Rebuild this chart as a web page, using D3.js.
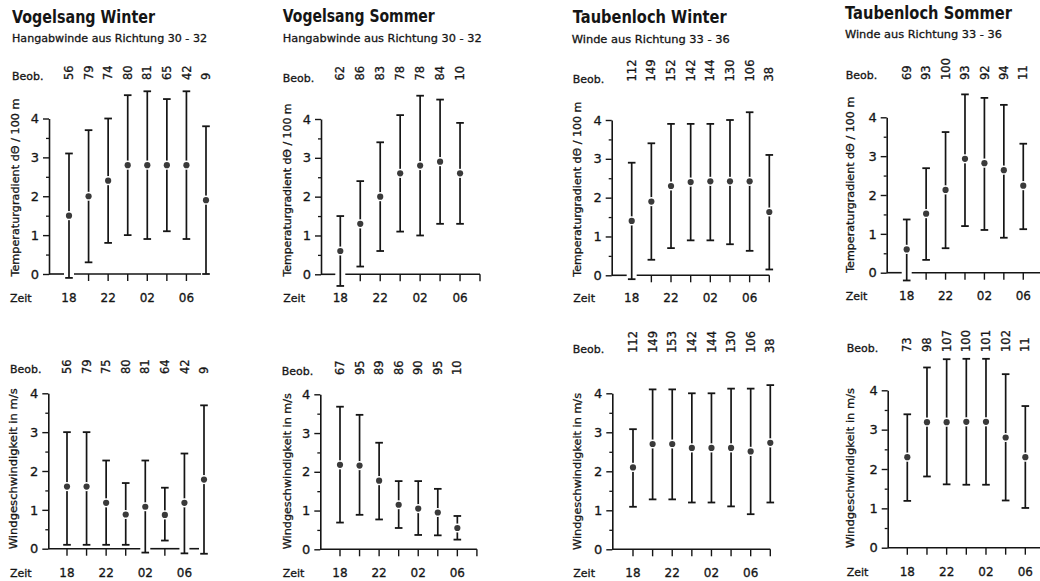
<!DOCTYPE html>
<html lang="de">
<head>
<meta charset="utf-8">
<title>Vogelsang / Taubenloch</title>
<script src="https://d3js.org/d3.v7.min.js"></script>
<style>
  body { margin: 0; background: #fff; }
  svg { display: block; font-family: "DejaVu Sans", sans-serif; }
  .lbl { stroke: #151515; stroke-width: 0.3; }
</style>
</head>
<body>
<div id="chart"></div>
<script>
/* ------------------------------------------------------------
 *  Daten
 * ------------------------------------------------------------ */
var hours = ["18", "20", "22", "24", "02", "04", "06", "08"];
var hourLabels = ["18", "22", "02", "06"];
var yTicks = [0, 1, 2, 3, 4];
var yMinor = [0.5, 1.5, 2.5, 3.5];

// Vogelsang Winter - Temperaturgradient
var vsWiT_mean = [1.5, 2.0, 2.4, 2.8, 2.8, 2.8, 2.8, 1.9];
var vsWiT_low  = [-0.1, 0.3, 0.8, 1.0, 0.9, 1.1, 0.9, 0.0];
var vsWiT_high = [3.1, 3.7, 4.0, 4.6, 4.7, 4.5, 4.7, 3.8];
var vsWiT_beob = [56, 79, 74, 80, 81, 65, 42, 9];

// Vogelsang Sommer - Temperaturgradient
var vsSoT_mean = [0.6, 1.3, 2.0, 2.6, 2.8, 2.9, 2.6];
var vsSoT_low  = [-0.3, 0.2, 0.6, 1.1, 1.0, 1.3, 1.3];
var vsSoT_high = [1.5, 2.4, 3.4, 4.1, 4.6, 4.5, 3.9];
var vsSoT_beob = [62, 86, 83, 78, 78, 84, 10];

// Taubenloch Winter - Temperaturgradient
var tlWiT_mean = [1.4, 1.9, 2.3, 2.4, 2.42, 2.42, 2.42, 1.63];
var tlWiT_low  = [-0.1, 0.4, 0.7, 0.9, 0.9, 0.8, 0.63, 0.15];
var tlWiT_high = [2.9, 3.4, 3.9, 3.9, 3.9, 4.0, 4.2, 3.1];
var tlWiT_beob = [112, 149, 152, 142, 144, 130, 106, 38];

// Taubenloch Sommer - Temperaturgradient
var tlSoT_mean = [0.6, 1.52, 2.13, 2.93, 2.82, 2.64, 2.24];
var tlSoT_low  = [-0.2, 0.33, 0.63, 1.2, 1.1, 0.9, 1.12];
var tlSoT_high = [1.37, 2.69, 3.62, 4.59, 4.5, 4.32, 3.32];
var tlSoT_beob = [69, 93, 100, 93, 92, 94, 11];

// Vogelsang Winter - Windgeschwindigkeit
var vsWiW_mean = [1.6, 1.6, 1.18, 0.88, 1.08, 0.87, 1.18, 1.78];
var vsWiW_low  = [0.1, 0.1, 0.1, 0.1, -0.1, 0.21, -0.12, -0.13];
var vsWiW_high = [3.0, 3.0, 2.27, 1.69, 2.27, 1.57, 2.45, 3.69];
var vsWiW_beob = [56, 79, 75, 80, 81, 64, 42, 9];

// Vogelsang Sommer - Windgeschwindigkeit
var vsSoW_mean = [2.18, 2.16, 1.77, 1.15, 1.05, 0.95, 0.55];
var vsSoW_low  = [0.69, 0.89, 0.77, 0.55, 0.37, 0.36, 0.25];
var vsSoW_high = [3.68, 3.47, 2.75, 1.76, 1.76, 1.56, 0.86];
var vsSoW_beob = [67, 95, 89, 86, 90, 95, 10];

// Taubenloch Winter - Windgeschwindigkeit
var tlWiW_mean = [2.1, 2.7, 2.7, 2.6, 2.6, 2.6, 2.51, 2.73];
var tlWiW_low  = [1.09, 1.28, 1.28, 1.2, 1.2, 1.1, 0.9, 1.2];
var tlWiW_high = [3.08, 4.1, 4.1, 4.0, 4.0, 4.12, 4.12, 4.21];
var tlWiW_beob = [112, 149, 153, 142, 144, 130, 106, 38];

// Taubenloch Sommer - Windgeschwindigkeit
var tlSoW_mean = [2.3, 3.19, 3.19, 3.2, 3.2, 2.8, 2.3];
var tlSoW_low  = [1.19, 1.81, 1.61, 1.6, 1.6, 1.2, 1.01];
var tlSoW_high = [3.39, 4.58, 4.79, 4.8, 4.8, 4.41, 3.6];
var tlSoW_beob = [73, 98, 107, 100, 101, 102, 11];

var tempLabel = "Temperaturgradient d\u0398 / 100 m";
var windLabel = "Windgeschwindigkeit in m/s";

/* ------------------------------------------------------------
 *  Panels (Texte + Lage)
 * ------------------------------------------------------------ */
var panels = [
  {title: "Vogelsang Winter", tx: 12, ty: 22.5, tlen: 143,
   sub: "Hangabwinde aus Richtung 30 - 32", sx: 12, sy: 41.5, slen: 195,
   mean: vsWiT_mean, low: vsWiT_low, high: vsWiT_high, beob: vsWiT_beob, ylab: tempLabel,
   bx: 12, bly: 80, by: 80, ax: 49, y0: 274, y4: 118.5, x0: 69, x1: 206,
   lx: 15, lc: 187.5, llen: 178, zx: 10, zy: 302},
  {title: "Vogelsang Sommer", tx: 282.7, ty: 22, tlen: 152,
   sub: "Hangabwinde aus Richtung 30 - 32", sx: 282.7, sy: 41.5, slen: 199,
   mean: vsSoT_mean, low: vsSoT_low, high: vsSoT_high, beob: vsSoT_beob, ylab: tempLabel,
   bx: 282.7, bly: 81.5, by: 80.5, ax: 321, y0: 274.3, y4: 119, x0: 340.3, x1: 480,
   lx: 286.7, lc: 190, llen: 173, zx: 283.3, zy: 302},
  {title: "Taubenloch Winter", tx: 572.7, ty: 22.5, tlen: 154,
   sub: "Winde aus Richtung 33 - 36", sx: 571.7, sy: 42.5, slen: 158,
   mean: tlWiT_mean, low: tlWiT_low, high: tlWiT_high, beob: tlWiT_beob, ylab: tempLabel,
   bx: 572.7, bly: 82.5, by: 81.5, ax: 611.7, y0: 275.3, y4: 120, x0: 631.7, x1: 769.3,
   lx: 576.7, lc: 189.2, llen: 175, zx: 573.3, zy: 302},
  {title: "Taubenloch Sommer", tx: 845, ty: 19.3, tlen: 167,
   sub: "Winde aus Richtung 33 - 36", sx: 845, sy: 38.3, slen: 157,
   mean: tlSoT_mean, low: tlSoT_low, high: tlSoT_high, beob: tlSoT_beob, ylab: tempLabel,
   bx: 845.7, bly: 79, by: 80, ax: 886.7, y0: 272.7, y4: 117.3, x0: 906.7, x1: 1042.7,
   lx: 850, lc: 184.8, llen: 176, zx: 845.7, zy: 300},
  {mean: vsWiW_mean, low: vsWiW_low, high: vsWiW_high, beob: vsWiW_beob, ylab: windLabel,
   bx: 10, bly: 373, by: 374, ax: 48.3, y0: 548.7, y4: 393.3, x0: 67, x1: 204,
   lx: 13.3, lc: 468.8, llen: 161, zx: 10, zy: 576.7},
  {mean: vsSoW_mean, low: vsSoW_low, high: vsSoW_high, beob: vsSoW_beob, ylab: windLabel,
   bx: 281.7, bly: 375, by: 375, ax: 320.3, y0: 549.3, y4: 394.3, x0: 340, x1: 476.9,
   lx: 286.7, lc: 471.2, llen: 156, zx: 282.7, zy: 577},
  {mean: tlWiW_mean, low: tlWiW_low, high: tlWiW_high, beob: tlWiW_beob, ylab: windLabel,
   bx: 572.7, bly: 353, by: 353, ax: 612.3, y0: 549.3, y4: 393.3, x0: 633, x1: 770.3,
   lx: 576.7, lc: 471.5, llen: 157, zx: 573.3, zy: 577},
  {mean: tlSoW_mean, low: tlSoW_low, high: tlSoW_high, beob: tlSoW_beob, ylab: windLabel,
   bx: 846.7, bly: 352, by: 352, ax: 887.7, y0: 547.7, y4: 390.3, x0: 907.3, x1: 1045,
   lx: 850, lc: 468, llen: 160, zx: 846.7, zy: 576}
];

var ink = "#151515";

var svg = d3.select("#chart")
    .append("svg")
    .attr("width", 1040)
    .attr("height", 581);

panels.forEach(function(p){
    var x = d3.scalePoint().domain(hours).range([p.x0, p.x1]);
    var y = d3.scaleLinear().domain([0, 4]).range([p.y0, p.y4]);
    var g = svg.append("g");

    var rows = p.mean.map(function(m, i){
        return {h: hours[i], m: m, lo: p.low[i], hi: p.high[i], b: p.beob[i]};
    });

    // Titel
    if (p.title) {
        g.append("text").attr("x", p.tx).attr("y", p.ty)
            .attr("font-size", 17).attr("font-weight", "bold").attr("fill", ink)
            .attr("textLength", p.tlen).attr("lengthAdjust", "spacingAndGlyphs")
            .text(p.title);
        g.append("text").attr("class", "lbl").attr("x", p.sx).attr("y", p.sy)
            .attr("font-size", 11).attr("fill", ink)
            .attr("textLength", p.slen).attr("lengthAdjust", "spacingAndGlyphs")
            .text(p.sub);
    }

    // Beobachtungen
    g.append("text").attr("class", "lbl").attr("x", p.bx).attr("y", p.bly)
        .attr("font-size", 11).attr("fill", ink).text("Beob.");
    g.selectAll(".beob").data(rows).enter().append("text")
        .attr("class", "lbl")
        .attr("transform", function(d){ return "translate(" + x(d.h) + "," + p.by + ") rotate(-90)"; })
        .attr("dy", "0.36em")
        .attr("font-size", 11.5).attr("fill", ink)
        .text(function(d){ return d.b; });

    // y-Achse
    var yAxis = g.append("g").attr("transform", "translate(" + p.ax + ",0)")
        .call(d3.axisLeft(y).tickValues(yTicks).tickSize(6).tickSizeOuter(0)
              .tickPadding(4).tickFormat(d3.format("d")));
    yAxis.select(".domain").attr("stroke", ink).attr("stroke-width", 1.6);
    yAxis.selectAll(".tick line").attr("stroke", ink).attr("stroke-width", 1.4);
    yAxis.selectAll(".tick text").attr("class", "lbl").attr("font-size", 13).attr("fill", ink)
        .attr("font-family", "DejaVu Sans");
    var yMin = g.append("g").attr("transform", "translate(" + p.ax + ",0)")
        .call(d3.axisLeft(y).tickValues(yMinor).tickSize(3).tickFormat(""));
    yMin.select(".domain").remove();
    yMin.selectAll(".tick line").attr("stroke", ink).attr("stroke-width", 1.3);

    g.append("text")
        .attr("class", "lbl")
        .attr("transform", "translate(" + p.lx + "," + p.lc + ") rotate(-90)")
        .attr("dy", "0.36em").attr("text-anchor", "middle")
        .attr("font-size", 11).attr("fill", ink)
        .attr("textLength", p.llen).attr("lengthAdjust", "spacingAndGlyphs")
        .text(p.ylab);

    // Grundlinie mit Luecken, wo Balken unter 0 reichen
    var gaps = rows.filter(function(d){ return d.lo <= 0.05; }).map(function(d){ return x(d.h); });
    var xEnd = x("08");
    var segs = [], start = p.ax;
    gaps.forEach(function(gx){
        segs.push([start, gx - 5]);
        start = gx + 5;
    });
    if (start < xEnd) segs.push([start, xEnd]);
    g.selectAll(".base").data(segs).enter().append("line")
        .attr("x1", function(s){ return s[0]; }).attr("x2", function(s){ return s[1]; })
        .attr("y1", y(0)).attr("y2", y(0))
        .attr("stroke", ink).attr("stroke-width", 1.6);

    // x-Ticks
    var tickHours = hours.filter(function(h, i){
        return !(rows[i] && rows[i].lo <= 0.05);
    });
    g.selectAll(".xt").data(tickHours).enter().append("line")
        .attr("x1", function(h){ return x(h); }).attr("x2", function(h){ return x(h); })
        .attr("y1", y(0)).attr("y2", y(0) + 7)
        .attr("stroke", ink).attr("stroke-width", 1.4);

    g.append("text").attr("class", "lbl").attr("x", p.zx).attr("y", p.zy)
        .attr("font-size", 11).attr("fill", ink).text("Zeit");
    g.selectAll(".xl").data(hourLabels).enter().append("text")
        .attr("class", "lbl")
        .attr("x", function(h){ return x(h); }).attr("y", p.zy)
        .attr("text-anchor", "middle").attr("font-size", 12).attr("fill", ink)
        .text(function(h){ return h; });

    // Fehlerbalken
    var bars = g.selectAll(".bar").data(rows).enter().append("g");
    bars.append("line")
        .attr("x1", function(d){ return x(d.h); }).attr("x2", function(d){ return x(d.h); })
        .attr("y1", function(d){ return y(d.lo); }).attr("y2", function(d){ return y(d.hi); })
        .attr("stroke", ink).attr("stroke-width", 1.7);
    ["lo", "hi"].forEach(function(k){
        bars.append("line")
            .attr("x1", function(d){ return x(d.h) - 3.8; }).attr("x2", function(d){ return x(d.h) + 3.8; })
            .attr("y1", function(d){ return y(d[k]); }).attr("y2", function(d){ return y(d[k]); })
            .attr("stroke", ink).attr("stroke-width", 1.8);
    });
    bars.append("circle")
        .attr("cx", function(d){ return x(d.h); }).attr("cy", function(d){ return y(d.m); })
        .attr("r", 4.6).attr("fill", "#fff");
    bars.append("circle")
        .attr("cx", function(d){ return x(d.h); }).attr("cy", function(d){ return y(d.m); })
        .attr("r", 3.1).attr("fill", "#3a3a3a");
});
</script>
</body>
</html>
